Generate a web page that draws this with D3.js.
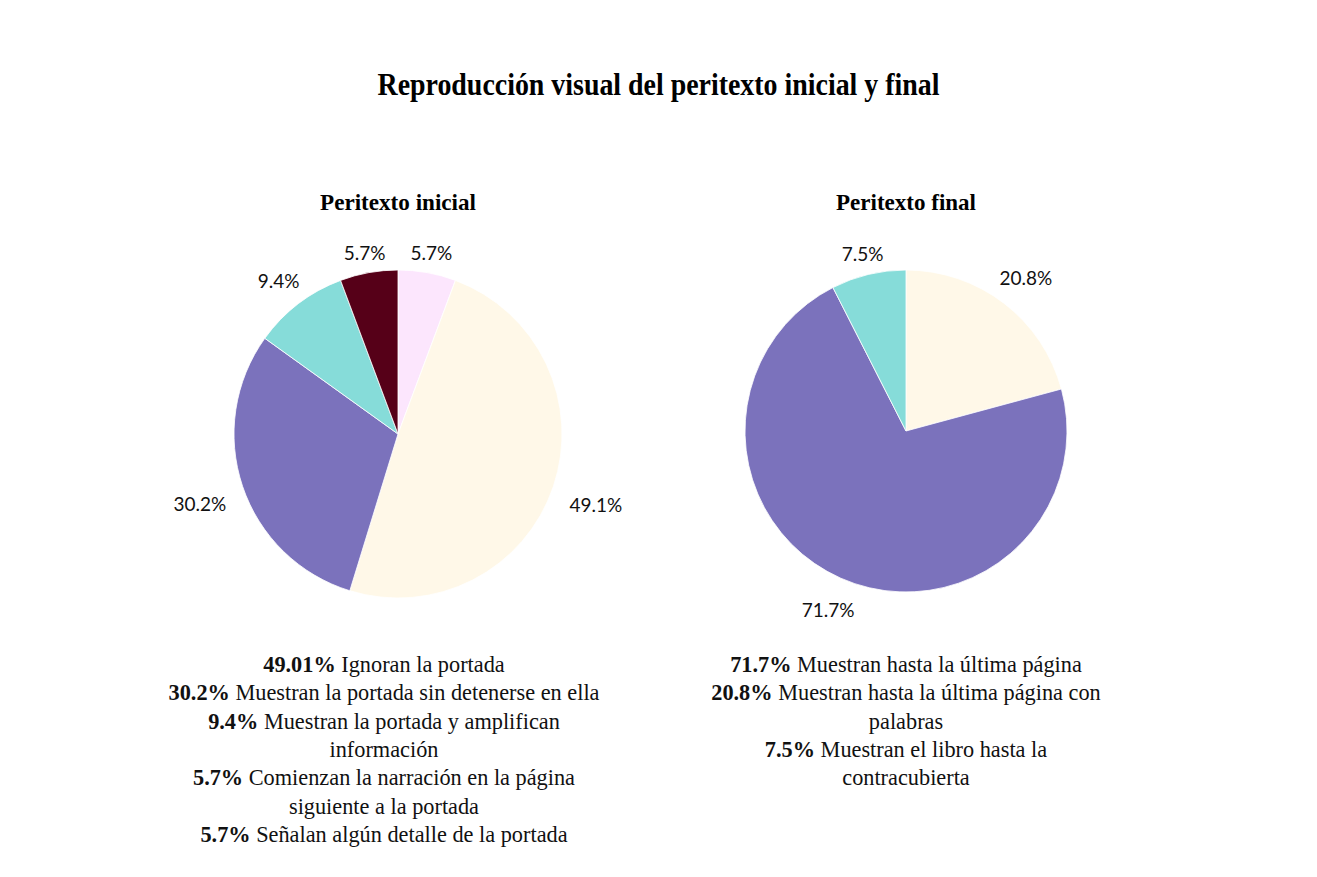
<!DOCTYPE html>
<html>
<head>
<meta charset="utf-8">
<script src="https://cdn.jsdelivr.net/npm/d3@7"></script>
<style>
  body { margin: 0; background: #fff; }
  .title { font-family: "Liberation Serif", serif; font-weight: bold; }
  .pct { font-family: Lato, "Noto Sans", sans-serif; fill: #111; }
  .legend { font-family: "Liberation Serif", "Times New Roman", serif; fill: #111; }
</style>
</head>
<body>
<svg width="1317" height="877"></svg>
<script>
"use strict";

const title = "Reproducción visual del peritexto inicial y final";

const inicialTitle = "Peritexto inicial";
const inicialValues = [5.7, 49.1, 30.2, 9.4, 5.7];
const inicialLabels = ["5.7%", "49.1%", "30.2%", "9.4%", "5.7%"];
const inicialColors = ["#fce6fd", "#fff8e8", "#7b72bc", "#86dcd9", "#560018"];
const inicialLegend = [
  ["49.01%", " Ignoran la portada"],
  ["30.2%", " Muestran la portada sin detenerse en ella"],
  ["9.4%", " Muestran la portada y amplifican"],
  ["", "información"],
  ["5.7%", " Comienzan la narración en la página"],
  ["", "siguiente a la portada"],
  ["5.7%", " Señalan algún detalle de la portada"]
];

const finalTitle = "Peritexto final";
const finalValues = [20.8, 71.7, 7.5];
const finalLabels = ["20.8%", "71.7%", "7.5%"];
const finalColors = ["#fff8e8", "#7b72bc", "#86dcd9"];
const finalLegend = [
  ["71.7%", " Muestran hasta la última página"],
  ["20.8%", " Muestran hasta la última página con"],
  ["", "palabras"],
  ["7.5%", " Muestran el libro hasta la"],
  ["", "contracubierta"]
];

const svg = d3.select("svg");
const width = +svg.attr("width");

svg.append("text")
  .attr("class", "title")
  .attr("x", width / 2)
  .attr("y", 95)
  .attr("text-anchor", "middle")
  .attr("font-size", 32)
  .attr("textLength", 562)
  .attr("lengthAdjust", "spacingAndGlyphs")
  .text(title);

const drawPie = (cfg) => {
  const g = svg.append("g")
    .attr("transform", `translate(${cfg.cx},${cfg.cy})`);

  g.append("text")
    .attr("class", "title")
    .attr("x", 0)
    .attr("y", cfg.titleY - cfg.cy)
    .attr("text-anchor", "middle")
    .attr("font-size", 23)
    .attr("textLength", cfg.titleWidth)
    .attr("lengthAdjust", "spacingAndGlyphs")
    .text(cfg.title);

  const pie = d3.pie().sort(null).value(d => d)(cfg.values);
  const arc = d3.arc().innerRadius(0).outerRadius(cfg.r);

  g.selectAll("path.slice")
    .data(pie)
    .enter()
    .append("path")
    .attr("class", "slice")
    .attr("d", arc)
    .attr("fill", (d, i) => cfg.colors[i])
    .attr("stroke", "#fff")
    .attr("stroke-width", 0.8);

  g.selectAll("text.pct")
    .data(pie)
    .enter()
    .append("text")
    .attr("class", "pct")
    .attr("font-size", 19)
    .attr("text-anchor", "middle")
    .attr("dominant-baseline", "central")
    .text((d, i) => cfg.labels[i])
    .each(function(d) {
      const a = (d.startAngle + d.endAngle) / 2;
      const w = this.getComputedTextLength();
      const rr = cfg.r + 20 + (w / 2) * Math.abs(Math.sin(a));
      d3.select(this)
        .attr("x", rr * Math.sin(a))
        .attr("y", -rr * Math.cos(a) + 3);
    });

  const leg = svg.append("text")
    .attr("class", "legend")
    .attr("font-size", 22.3)
    .attr("text-anchor", "middle");

  cfg.legend.forEach((line, i) => {
    const t = leg.append("tspan")
      .attr("x", cfg.legendX)
      .attr("y", 672 + i * 28.3);
    if (line[0]) t.append("tspan").attr("font-weight", "bold").text(line[0]);
    t.append("tspan").text(line[1]);
  });
};

drawPie({
  cx: 398, cy: 434, r: 164,
  title: inicialTitle, titleY: 210, titleWidth: 156,
  values: inicialValues, labels: inicialLabels, colors: inicialColors,
  legend: inicialLegend, legendX: 384
});

drawPie({
  cx: 906, cy: 431, r: 161,
  title: finalTitle, titleY: 210, titleWidth: 140,
  values: finalValues, labels: finalLabels, colors: finalColors,
  legend: finalLegend, legendX: 906
});
</script>
</body>
</html>
